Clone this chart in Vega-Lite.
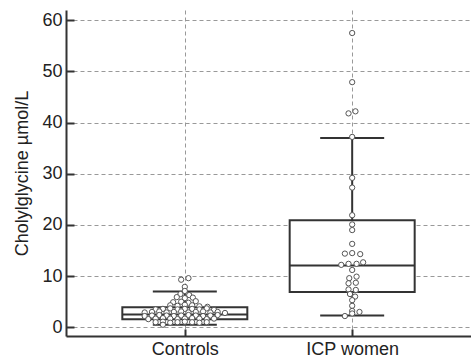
{
  "$schema": "https://vega.github.io/schema/vega-lite/v6.json",
  "width": 405,
  "height": 326,
  "autosize": {"type": "none"},
  "padding": {"left": 66, "top": 10, "right": 0, "bottom": 25},
  "background": "white",
  "config": {
    "view": {"stroke": null},
    "font": "Liberation Sans",
    "axis": {
      "domainColor": "#333333",
      "domainWidth": 2,
      "tickColor": "#333333",
      "labelColor": "#222222",
      "labelFont": "Liberation Sans",
      "labelFontSize": 18,
      "titleFont": "Liberation Sans",
      "titleFontSize": 18,
      "titleFontWeight": "normal",
      "titleColor": "#222222",
      "gridColor": "#999999",
      "gridDash": [4, 3],
      "gridWidth": 1
    }
  },
  "datasets": {
    "points": [
      {"group": "Controls", "value": 9.3, "slot": -0.5},
      {"group": "Controls", "value": 9.6, "slot": 0.5},
      {"group": "Controls", "value": 7.9, "slot": 0},
      {"group": "Controls", "value": 7.1, "slot": 0},
      {"group": "Controls", "value": 6.5, "slot": -0.6},
      {"group": "Controls", "value": 6.3, "slot": 0.6},
      {"group": "Controls", "value": 5.9, "slot": -1.1},
      {"group": "Controls", "value": 5.7, "slot": 0},
      {"group": "Controls", "value": 5.8, "slot": 1.1},
      {"group": "Controls", "value": 4.9, "slot": -1.6},
      {"group": "Controls", "value": 5.0, "slot": -0.5},
      {"group": "Controls", "value": 4.8, "slot": 0.5},
      {"group": "Controls", "value": 5.1, "slot": 1.5},
      {"group": "Controls", "value": 4.3, "slot": -2},
      {"group": "Controls", "value": 4.2, "slot": -1},
      {"group": "Controls", "value": 4.4, "slot": 0},
      {"group": "Controls", "value": 4.3, "slot": 1},
      {"group": "Controls", "value": 4.1, "slot": 2},
      {"group": "Controls", "value": 4.0, "slot": 3.1},
      {"group": "Controls", "value": 3.5, "slot": -4},
      {"group": "Controls", "value": 3.6, "slot": -3},
      {"group": "Controls", "value": 3.7, "slot": -2},
      {"group": "Controls", "value": 3.5, "slot": -1},
      {"group": "Controls", "value": 3.6, "slot": 0},
      {"group": "Controls", "value": 3.6, "slot": 1},
      {"group": "Controls", "value": 3.5, "slot": 2},
      {"group": "Controls", "value": 3.7, "slot": 3},
      {"group": "Controls", "value": 3.4, "slot": 4},
      {"group": "Controls", "value": 2.9, "slot": -5.5},
      {"group": "Controls", "value": 3.0, "slot": -4.5},
      {"group": "Controls", "value": 3.1, "slot": -3.5},
      {"group": "Controls", "value": 2.9, "slot": -2.5},
      {"group": "Controls", "value": 3.0, "slot": -1.5},
      {"group": "Controls", "value": 3.1, "slot": -0.5},
      {"group": "Controls", "value": 2.9, "slot": 0.5},
      {"group": "Controls", "value": 3.0, "slot": 1.5},
      {"group": "Controls", "value": 3.1, "slot": 2.5},
      {"group": "Controls", "value": 2.9, "slot": 3.5},
      {"group": "Controls", "value": 3.0, "slot": 4.5},
      {"group": "Controls", "value": 2.8, "slot": 5.5},
      {"group": "Controls", "value": 2.2, "slot": -5.5},
      {"group": "Controls", "value": 2.3, "slot": -4.5},
      {"group": "Controls", "value": 2.4, "slot": -3.5},
      {"group": "Controls", "value": 2.3, "slot": -2.5},
      {"group": "Controls", "value": 2.2, "slot": -1.5},
      {"group": "Controls", "value": 2.3, "slot": -0.5},
      {"group": "Controls", "value": 2.4, "slot": 0.5},
      {"group": "Controls", "value": 2.3, "slot": 1.5},
      {"group": "Controls", "value": 2.2, "slot": 2.5},
      {"group": "Controls", "value": 2.3, "slot": 3.5},
      {"group": "Controls", "value": 2.4, "slot": 4.5},
      {"group": "Controls", "value": 1.6, "slot": -5},
      {"group": "Controls", "value": 1.7, "slot": -4},
      {"group": "Controls", "value": 1.8, "slot": -3},
      {"group": "Controls", "value": 1.7, "slot": -2},
      {"group": "Controls", "value": 1.6, "slot": -1},
      {"group": "Controls", "value": 1.7, "slot": 0},
      {"group": "Controls", "value": 1.8, "slot": 1},
      {"group": "Controls", "value": 1.7, "slot": 2},
      {"group": "Controls", "value": 1.6, "slot": 3},
      {"group": "Controls", "value": 1.7, "slot": 4},
      {"group": "Controls", "value": 1.0, "slot": -4},
      {"group": "Controls", "value": 1.1, "slot": -3},
      {"group": "Controls", "value": 0.9, "slot": -2},
      {"group": "Controls", "value": 1.0, "slot": -1},
      {"group": "Controls", "value": 1.1, "slot": 0},
      {"group": "Controls", "value": 1.0, "slot": 1},
      {"group": "Controls", "value": 0.9, "slot": 2},
      {"group": "Controls", "value": 1.0, "slot": 3},
      {"group": "Controls", "value": 0.5, "slot": -3},
      {"group": "ICP women", "value": 57.5, "slot": 0},
      {"group": "ICP women", "value": 47.9, "slot": 0},
      {"group": "ICP women", "value": 41.8, "slot": -0.5},
      {"group": "ICP women", "value": 42.2, "slot": 0.45},
      {"group": "ICP women", "value": 37.2, "slot": 0},
      {"group": "ICP women", "value": 29.2, "slot": 0},
      {"group": "ICP women", "value": 27.3, "slot": 0},
      {"group": "ICP women", "value": 21.9, "slot": 0},
      {"group": "ICP women", "value": 20.1, "slot": 0},
      {"group": "ICP women", "value": 19.0, "slot": 0},
      {"group": "ICP women", "value": 16.3, "slot": 0},
      {"group": "ICP women", "value": 14.4, "slot": -1},
      {"group": "ICP women", "value": 14.5, "slot": 0},
      {"group": "ICP women", "value": 14.3, "slot": 1.1},
      {"group": "ICP women", "value": 12.2, "slot": -1.5},
      {"group": "ICP women", "value": 12.4, "slot": -0.5},
      {"group": "ICP women", "value": 12.4, "slot": 0.6},
      {"group": "ICP women", "value": 12.7, "slot": 1.5},
      {"group": "ICP women", "value": 11.2, "slot": 0},
      {"group": "ICP women", "value": 9.6, "slot": -0.4},
      {"group": "ICP women", "value": 9.9, "slot": 0.6},
      {"group": "ICP women", "value": 8.6, "slot": -0.5},
      {"group": "ICP women", "value": 8.7, "slot": 0.5},
      {"group": "ICP women", "value": 7.4, "slot": -0.5},
      {"group": "ICP women", "value": 7.3, "slot": 0.5},
      {"group": "ICP women", "value": 6.5, "slot": -0.3},
      {"group": "ICP women", "value": 6.0, "slot": 0.4},
      {"group": "ICP women", "value": 5.3, "slot": 0},
      {"group": "ICP women", "value": 4.2, "slot": 0},
      {"group": "ICP women", "value": 3.2, "slot": 0},
      {"group": "ICP women", "value": 2.2, "slot": -1},
      {"group": "ICP women", "value": 2.7, "slot": 0},
      {"group": "ICP women", "value": 3.0, "slot": 1}
    ],
    "boxes": [
      {"group": "Controls", "lower": 0.5, "q1": 1.56, "median": 2.5, "q3": 3.9, "upper": 7.0},
      {"group": "ICP women", "lower": 2.3, "q1": 6.9, "median": 12.1, "q3": 20.9, "upper": 37.0}
    ]
  },
  "encoding": {
    "x": {
      "field": "group",
      "type": "nominal",
      "scale": {"type": "point", "domain": ["Controls", "ICP women"], "padding": 0.71},
      "axis": {
        "title": null,
        "labelAngle": 0,
        "tickSize": -7,
        "tickWidth": 2,
        "labelPadding": 11,
        "grid": true
      }
    }
  },
  "layer": [
    {
      "data": {"name": "boxes"},
      "mark": {"type": "rule", "color": "#333333", "strokeWidth": 2},
      "encoding": {
        "y": {
          "field": "lower",
          "type": "quantitative",
          "scale": {"domain": [-1.7, 62], "nice": false, "zero": false},
          "axis": {
            "title": "Cholylglycine µmol/L",
            "values": [0, 5, 10, 15, 20, 25, 30, 35, 40, 45, 50, 55, 60],
            "labelExpr": "datum.value % 10 === 0 ? datum.label : ''",
            "tickSize": {"condition": {"test": "datum.value % 10 === 0", "value": -8}, "value": -3},
            "tickWidth": {"condition": {"test": "datum.value % 10 === 0", "value": 2}, "value": 1},
            "gridOpacity": {"condition": {"test": "datum.value % 10 === 0", "value": 1}, "value": 0},
            "labelPadding": 12,
            "titlePadding": 10
          }
        },
        "y2": {"field": "upper"}
      }
    },
    {
      "data": {"name": "boxes"},
      "mark": {"type": "bar", "fill": "white", "stroke": "#333333", "strokeWidth": 2, "size": 125},
      "encoding": {
        "y": {"field": "q1", "type": "quantitative"},
        "y2": {"field": "q3"}
      }
    },
    {
      "data": {"name": "boxes"},
      "mark": {"type": "tick", "color": "#333333", "thickness": 2, "size": 125, "opacity": 1},
      "encoding": {"y": {"field": "median", "type": "quantitative"}}
    },
    {
      "data": {"name": "boxes"},
      "mark": {"type": "tick", "color": "#333333", "thickness": 2, "size": 64, "opacity": 1},
      "encoding": {"y": {"field": "upper", "type": "quantitative"}}
    },
    {
      "data": {"name": "boxes"},
      "mark": {"type": "tick", "color": "#333333", "thickness": 2, "size": 64, "opacity": 1},
      "encoding": {"y": {"field": "lower", "type": "quantitative"}}
    },
    {
      "data": {"name": "points"},
      "mark": {"type": "point", "shape": "circle", "filled": false, "fill": "white", "fillOpacity": 1, "stroke": "#555555", "strokeWidth": 1, "size": 28, "opacity": 1},
      "encoding": {
        "xOffset": {
          "field": "slot",
          "type": "quantitative",
          "scale": {"domain": [-6, 6], "range": [-43.8, 43.8]}
        },
        "y": {"field": "value", "type": "quantitative"}
      }
    }
  ]
}
